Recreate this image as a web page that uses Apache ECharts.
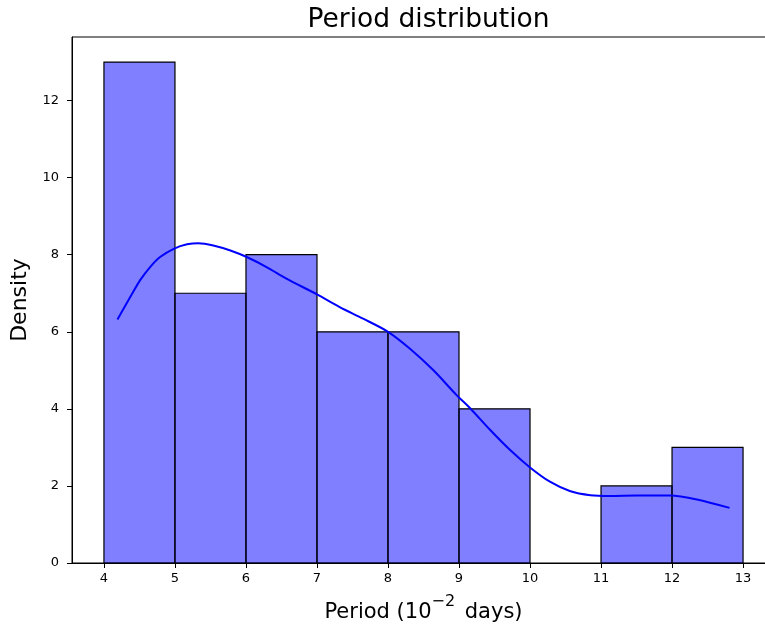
<!DOCTYPE html>
<html>
<head>
<meta charset="utf-8">
<script src="https://cdn.jsdelivr.net/npm/echarts@6/dist/echarts.min.js"></script>
<style>html,body{margin:0;padding:0;background:#fff}#c{width:765px;height:628px}</style>
</head>
<body>
<div id="c"></div>
<script>
// Histogram bins (period, 10^-2 days) and densities
var binStarts = [4, 5, 6, 7, 8, 9, 10, 11, 12];
var binEnds   = [5, 6, 7, 8, 9, 10, 11, 12, 13];
var binValues = [13, 7, 8, 6, 6, 4, 0, 2, 3];
// KDE curve
var kdeX = [4.19, 4.37, 4.51, 4.65, 4.79, 4.99, 5.17, 5.33, 5.54, 5.78, 6.01, 6.29, 6.57, 7.0, 7.32, 7.65, 8.0, 8.31, 8.64, 8.97, 9.16, 9.44, 9.72, 10.0, 10.28, 10.56, 10.85, 11.13, 11.5, 11.97, 12.35, 12.81];
var kdeY = [6.32, 6.90, 7.34, 7.68, 7.94, 8.16, 8.27, 8.30, 8.24, 8.11, 7.94, 7.68, 7.38, 6.97, 6.64, 6.34, 6.00, 5.56, 5.00, 4.35, 4.01, 3.45, 2.93, 2.48, 2.11, 1.87, 1.76, 1.74, 1.75, 1.75, 1.65, 1.43];
var xTicks = [4, 5, 6, 7, 8, 9, 10, 11, 12, 13];
var yTicks = [0, 2, 4, 6, 8, 10, 12];

var font = 'DejaVu Sans';
var histData = binStarts.map(function (s, i) { return [s, binEnds[i], binValues[i]]; });
var kdeData = kdeX.map(function (x, i) { return [x, kdeY[i]]; });

var chart = echarts.init(document.getElementById('c'), null, {renderer: 'canvas'});
chart.setOption({
  animation: false,
  backgroundColor: '#fff',
  title: {
    text: 'Period distribution',
    left: 423.5, top: 2, textAlign: 'center',
    textStyle: {fontFamily: font, fontSize: 26.5, fontWeight: 'normal', color: '#000'}
  },
  grid: {left: 72, top: 37, right: -10, bottom: 65, outerBoundsMode: 'none', containLabel: false,
         show: true, borderColor: '#000', borderWidth: 1, backgroundColor: 'transparent'},
  xAxis: {
    type: 'value', min: 3.55, max: 13.45,
    name: '{a|Period (10}{s|\u22122}{a| days)}', nameLocation: 'middle', nameGap: 30,
    nameTextStyle: {fontFamily: font, fontSize: 21, color: '#000',
      rich: {
        a: {fontFamily: font, fontSize: 21, color: '#000', lineHeight: 30, verticalAlign: 'bottom'},
        s: {fontFamily: font, fontSize: 16, color: '#000', lineHeight: 30, verticalAlign: 'top', padding: [1, 3, 0, 0]}
      }},
    axisLine: {show: true, onZero: false, lineStyle: {color: '#000', width: 1}},
    axisTick: {show: true, length: 5, customValues: xTicks, lineStyle: {color: '#000'}},
    axisLabel: {customValues: xTicks, fontFamily: font, fontSize: 13, color: '#000', margin: 9},
    splitLine: {show: false}
  },
  yAxis: {
    type: 'value', min: 0, max: 13.65,
    name: 'Density', nameLocation: 'middle', nameGap: 38,
    nameTextStyle: {fontFamily: font, fontSize: 22, color: '#000'},
    axisLine: {show: true, lineStyle: {color: '#000', width: 1}},
    axisTick: {show: true, length: 5, customValues: yTicks, lineStyle: {color: '#000'}},
    axisLabel: {customValues: yTicks, fontFamily: font, fontSize: 13, color: '#000', margin: 13},
    splitLine: {show: false}
  },
  series: [
    {
      type: 'custom',
      data: histData,
      encode: {x: [0, 1], y: 2},
      renderItem: function (params, api) {
        var v = api.value(2);
        if (!v) return null;
        var p0 = api.coord([api.value(0), 0]);
        var p1 = api.coord([api.value(1), v]);
        return {
          type: 'rect',
          shape: {x: p0[0], y: p1[1], width: p1[0] - p0[0], height: p0[1] - p1[1]},
          style: {fill: 'rgba(0,0,255,0.5)', stroke: '#000', lineWidth: 1.2}
        };
      },
      z: 2
    },
    {
      type: 'line',
      data: kdeData,
      smooth: 0.3,
      showSymbol: false,
      lineStyle: {color: '#0000ff', width: 2},
      z: 3
    }
  ]
});
</script>
</body>
</html>
